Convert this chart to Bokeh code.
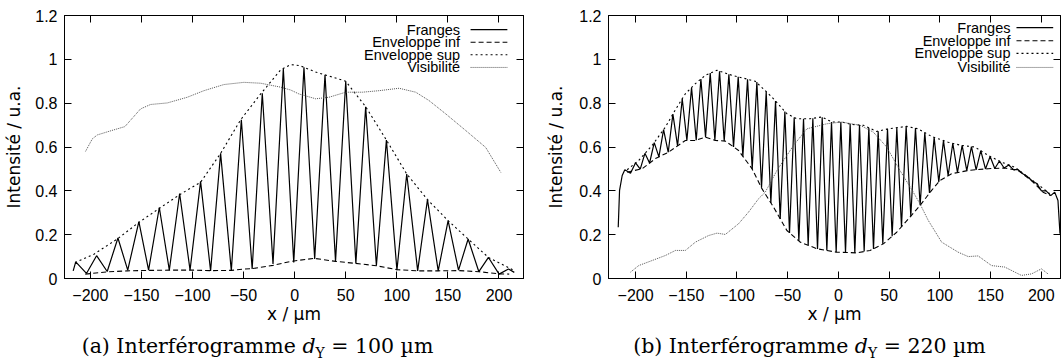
from bokeh.plotting import figure
from bokeh.models import Range1d, FixedTicker, LinearAxis, Label, Div
from bokeh.layouts import row, column
from bokeh.embed import file_html
from bokeh.resources import INLINE

# ---------------- shared axis data ----------------
X_TICKS = [-200, -150, -100, -50, 0, 50, 100, 150, 200]
Y_TICKS = [0, 0.2, 0.4, 0.6, 0.8, 1.0, 1.2]
Y_TICK_LABELS = ["0", "0.2", "0.4", "0.6", "0.8", "1", "1.2"]
X_LABEL = "x / µm"
Y_LABEL = "Intensité / u.a."
LEGEND_LABELS = ["Franges", "Enveloppe inf", "Enveloppe sup", "Visibilité"]

# ---------------- panel (a) : d_Y = 100 um ----------------
A_EDGE_X = [-216.8, 215.0]
A_EDGE_Y = [0.035, 0.028]
A_PEAK_X = [-214.3, -193.9, -173.0, -152.5, -132.5, -112.6, -92.1, -72.5, -52.2, -31.7, -11.1,
            9.1, 29.7, 50.0, 69.5, 89.8, 109.7, 130.0, 150.2, 169.8, 189.7, 209.3]
A_PEAK_Y = [0.076, 0.104, 0.185, 0.260, 0.324, 0.388, 0.443, 0.571, 0.724, 0.845, 0.957,
            0.964, 0.929, 0.900, 0.784, 0.632, 0.477, 0.360, 0.264, 0.180, 0.096, 0.043]
A_TROUGH_X = [-203.8, -183.5, -163.4, -143.0, -122.7, -102.4, -82.3, -62.0, -41.6, -21.2, -0.9,
              19.6, 40.0, 59.9, 80.0, 100.1, 120.4, 140.5, 160.4, 180.3, 200.1]
A_TROUGH_Y = [0.023, 0.032, 0.038, 0.038, 0.038, 0.038, 0.035, 0.035, 0.043, 0.066, 0.073,
              0.089, 0.078, 0.069, 0.058, 0.038, 0.035, 0.035, 0.038, 0.031, 0.020]
A_SUP_X = [-215.0, -196.5, -173.7, -152.5, -131.2, -111.7, -92.1, -72.5, -52.9, -33.3, -13.7,
           -3.9, 4.2, 9.1, 20.5, 29.7, 40.0, 50.0, 59.7, 69.5, 89.8, 109.7, 130.0, 150.2,
           169.8, 189.7, 209.3, 215.0]
A_SUP_Y = [0.073, 0.111, 0.180, 0.256, 0.324, 0.385, 0.439, 0.571, 0.724, 0.842, 0.952,
           0.976, 0.972, 0.964, 0.942, 0.929, 0.915, 0.900, 0.842, 0.784, 0.632, 0.477, 0.360,
           0.264, 0.180, 0.096, 0.050, 0.035]
A_INF_X = [-205.0, -183.5, -163.9, -143.0, -122.7, -98.6, -82.3, -62.0, -49.7, -41.4, -21.2,
           -3.9, 19.0, 40.2, 59.7, 80.0, 100.6, 121.2, 140.7, 161.0, 180.5, 200.1, 210.0]
A_INF_Y = [0.020, 0.030, 0.035, 0.037, 0.038, 0.038, 0.036, 0.037, 0.043, 0.045, 0.060,
           0.078, 0.092, 0.078, 0.069, 0.058, 0.040, 0.035, 0.035, 0.036, 0.031, 0.021, 0.020]
A_VIS_X = [-204.7, -198.1, -193.2, -179.3, -166.2, -150.8, -141.0, -124.7, -105.1, -88.8,
           -69.2, -49.7, -33.3, -13.7, -3.9, 4.2, 20.6, 33.6, 50.0, 66.3, 82.6, 102.2, 118.5,
           131.5, 147.9, 167.5, 187.0, 201.8]
A_VIS_Y = [0.580, 0.637, 0.655, 0.675, 0.693, 0.774, 0.794, 0.801, 0.827, 0.857, 0.885,
           0.895, 0.891, 0.873, 0.860, 0.842, 0.820, 0.827, 0.850, 0.850, 0.857, 0.868, 0.850,
           0.812, 0.751, 0.675, 0.598, 0.484]

# ---------------- panel (b) : d_Y = 220 um ----------------
B_EDGE_X = [-217.1, -215.8, -213.2, 216.5, 218.5]
B_EDGE_Y = [0.234, 0.402, 0.470, 0.356, 0.204]
B_PEAK_X = [-210.6, -200.0, -190.8, -181.6, -172.4, -163.2, -154.0, -144.8, -135.6, -126.4,
            -117.2, -108.0, -98.8, -89.6, -80.4, -71.2, -62.0, -52.8, -43.6, -34.4, -25.2,
            -16.0, -6.8, 2.4, 11.6, 20.8, 30.0, 39.2, 48.4, 57.6, 66.8, 76.0, 85.2, 94.4,
            103.6, 112.8, 122.0, 131.2, 140.4, 149.6, 158.8, 168.0, 177.2, 186.4, 195.6,
            204.8, 213.3]
B_PEAK_Y = [0.496, 0.528, 0.571, 0.620, 0.679, 0.750, 0.820, 0.871, 0.910, 0.937, 0.946,
            0.932, 0.920, 0.909, 0.896, 0.852, 0.810, 0.762, 0.735, 0.729, 0.731, 0.736,
            0.714, 0.714, 0.705, 0.700, 0.688, 0.672, 0.682, 0.688, 0.694, 0.686, 0.666,
            0.644, 0.629, 0.617, 0.607, 0.602, 0.583, 0.557, 0.536, 0.518, 0.497, 0.465,
            0.433, 0.400, 0.394]
B_TROUGH_X = [-205.0, -195.4, -186.2, -177.0, -167.8, -158.6, -149.4, -140.2, -131.0, -121.8,
              -112.6, -103.4, -94.2, -85.0, -75.8, -66.6, -57.4, -48.2, -39.0, -29.8, -20.6,
              -11.4, -2.2, 7.0, 16.2, 25.4, 34.6, 43.8, 53.0, 62.2, 71.4, 80.6, 89.8, 99.0,
              108.2, 117.4, 126.6, 135.8, 145.0, 154.2, 163.4, 172.6, 181.8, 191.0, 200.2,
              209.4]
B_TROUGH_Y = [0.480, 0.499, 0.527, 0.555, 0.576, 0.605, 0.630, 0.631, 0.645, 0.631, 0.627,
              0.600, 0.558, 0.500, 0.414, 0.345, 0.272, 0.208, 0.171, 0.152, 0.135, 0.128,
              0.120, 0.119, 0.117, 0.123, 0.135, 0.157, 0.193, 0.236, 0.284, 0.334, 0.390,
              0.441, 0.469, 0.484, 0.492, 0.496, 0.500, 0.502, 0.504, 0.497, 0.478, 0.445,
              0.400, 0.378]
B_SUP_X = [-208.3, -196.9, -183.7, -170.6, -160.7, -150.9, -141.0, -131.2, -119.7, -104.9,
           -91.8, -82.0, -71.0, -64.0, -50.8, -41.0, -27.9, -16.3, -6.5, 3.3, 13.2, 24.6,
           37.8, 49.2, 67.3, 78.7, 91.9, 108.3, 121.5, 134.5, 147.6, 160.8, 173.9, 187.0,
           200.2, 208.4]
B_SUP_Y = [0.496, 0.539, 0.607, 0.691, 0.770, 0.843, 0.889, 0.927, 0.950, 0.927, 0.912,
           0.900, 0.852, 0.820, 0.752, 0.729, 0.729, 0.737, 0.714, 0.714, 0.703, 0.699,
           0.671, 0.683, 0.694, 0.683, 0.648, 0.622, 0.607, 0.600, 0.562, 0.531, 0.508,
           0.463, 0.417, 0.387]
B_INF_X = [-208.3, -193.5, -180.4, -167.3, -150.9, -141.0, -131.2, -121.4, -111.5, -98.4,
           -85.2, -75.4, -64.0, -50.8, -37.7, -21.3, -1.6, 18.1, 31.2, 44.3, 57.5, 70.6, 80.4,
           91.9, 100.1, 111.6, 128.0, 147.6, 164.1, 177.2, 190.4, 201.8, 208.4]
B_INF_Y = [0.485, 0.501, 0.547, 0.577, 0.630, 0.630, 0.645, 0.630, 0.627, 0.584, 0.501,
           0.410, 0.326, 0.219, 0.166, 0.136, 0.120, 0.117, 0.128, 0.158, 0.211, 0.280,
           0.333, 0.402, 0.447, 0.478, 0.493, 0.501, 0.504, 0.493, 0.447, 0.394, 0.379]
B_VIS_X = [-205.0, -196.9, -183.7, -170.6, -160.7, -150.9, -141.0, -128.0, -119.7, -111.5,
           -98.4, -88.6, -78.7, -72.1, -60.6, -44.3, -31.1, -11.4, 3.3, 21.4, 34.4, 47.6,
           60.7, 73.8, 80.4, 88.6, 101.8, 118.1, 128.0, 137.8, 151.0, 164.1, 180.5, 190.4,
           200.2, 206.7]
B_VIS_Y = [0.029, 0.059, 0.082, 0.105, 0.128, 0.128, 0.166, 0.196, 0.207, 0.201, 0.250,
           0.303, 0.364, 0.394, 0.493, 0.607, 0.683, 0.706, 0.714, 0.699, 0.668, 0.600,
           0.493, 0.394, 0.341, 0.265, 0.166, 0.120, 0.100, 0.103, 0.059, 0.052, 0.014,
           0.021, 0.044, 0.021]

CAPTION_A = '(a) Interférogramme <i>d</i><sub style="font-size:68%">Y</sub> = 100 µm'
CAPTION_B = '(b) Interférogramme <i>d</i><sub style="font-size:68%">Y</sub> = 220 µm'

SANS = "Liberation Sans"
LABEL_FONT = "DejaVu Sans"
SERIF = "DejaVu Serif"

STYLES = [
    dict(line_color="black", line_width=1.2, line_dash="solid"),
    dict(line_color="black", line_width=1.1, line_dash="5 3"),
    dict(line_color="black", line_width=1.1, line_dash="2 3"),
    dict(line_color="#555555", line_width=1.0, line_dash="1 1"),
]


def fringe_curve(edge_x, edge_y, peak_x, peak_y, trough_x, trough_y):
    pts = sorted(list(zip(edge_x, edge_y)) + list(zip(peak_x, peak_y)) + list(zip(trough_x, trough_y)))
    return [p[0] for p in pts], [p[1] for p in pts]


def make_panel(x_range, width, left, right, ylab_standoff, series, legend_pos):
    p = figure(width=width, height=328,
               x_range=Range1d(*x_range), y_range=Range1d(0, 1.2),
               output_backend="svg", toolbar_location=None,
               min_border_left=left, min_border_right=right,
               min_border_top=15, min_border_bottom=50)
    p.background_fill_color = "white"
    p.border_fill_color = "white"
    p.outline_line_color = "black"
    p.outline_line_width = 1
    p.grid.visible = False

    for (xs, ys), st in zip(series, STYLES):
        p.line(xs, ys, **st)

    xa = p.xaxis[0]
    xa.ticker = FixedTicker(ticks=X_TICKS)
    ya = p.yaxis[0]
    ya.ticker = FixedTicker(ticks=Y_TICKS)
    ya.major_label_overrides = {t: s for t, s in zip(Y_TICKS, Y_TICK_LABELS)}
    xa.axis_label = X_LABEL
    ya.axis_label = Y_LABEL
    for ax in (xa, ya):
        ax.major_tick_in = 7
        ax.major_tick_out = 0
        ax.minor_tick_line_color = None
        ax.axis_line_color = "black"
        ax.major_tick_line_color = "black"
        ax.major_label_text_font = SANS
        ax.major_label_text_font_size = "16px"
        ax.major_label_text_color = "black"
        ax.axis_label_text_font = LABEL_FONT
        ax.axis_label_text_font_size = "17px"
        ax.axis_label_text_font_style = "normal"
        ax.axis_label_text_color = "black"
    xa.major_label_standoff = 10
    xa.axis_label_standoff = 0
    ya.major_label_standoff = 7
    ya.axis_label_standoff = ylab_standoff

    ra = LinearAxis(ticker=FixedTicker(ticks=Y_TICKS),
                    major_label_overrides={t: "" for t in Y_TICKS})
    ta = LinearAxis(ticker=FixedTicker(ticks=X_TICKS),
                    major_label_overrides={t: "" for t in X_TICKS})
    for ax in (ra, ta):
        ax.major_tick_in = 7
        ax.major_tick_out = 0
        ax.major_label_standoff = 0
        ax.minor_tick_line_color = None
        ax.axis_line_color = "black"
    p.add_layout(ra, "right")
    p.add_layout(ta, "above")

    # legend (gnuplot style: label right-aligned, sample on the right)
    tx, lx0, lx1, rows = legend_pos
    for lab, yy, st in zip(LEGEND_LABELS, rows, STYLES):
        p.add_layout(Label(x=tx, y=yy, text=lab, text_align="right", text_baseline="middle",
                           text_font=SANS, text_font_size="14.5px", text_color="black"))
        p.line([lx0, lx1], [yy, yy], **st)
    return p


fa = fringe_curve(A_EDGE_X, A_EDGE_Y, A_PEAK_X, A_PEAK_Y, A_TROUGH_X, A_TROUGH_Y)
pa = make_panel((-225.3, 224.0), 540, 64, 17, 8,
                [fa, (A_INF_X, A_INF_Y), (A_SUP_X, A_SUP_Y), (A_VIS_X, A_VIS_Y)],
                (161.9, 172.2, 208.2, [1.136, 1.078, 1.021, 0.963]))

fb = fringe_curve(B_EDGE_X, B_EDGE_Y, B_PEAK_X, B_PEAK_Y, B_TROUGH_X, B_TROUGH_Y)
pb = make_panel((-226.7, 219.0), 522, 68, 2, 10,
                [fb, (B_INF_X, B_INF_Y), (B_SUP_X, B_SUP_Y), (B_VIS_X, B_VIS_Y)],
                (169.7, 175.6, 211.8, [1.145, 1.085, 1.027, 0.963]))

cap_style = {"font-family": SERIF, "font-size": "20.5px", "line-height": "19px",
             "text-align": "center", "color": "black", "padding-top": "9px",
             "white-space": "nowrap"}
da = Div(text=CAPTION_A, width=515, height=35, margin=(0, 25, 0, 0), styles=cap_style)
db = Div(text=CAPTION_B, width=439, height=35, margin=(0, 0, 0, 50), styles=cap_style)

layout = column(row(pa, pb), row(da, db))

open("out.html", "w").write(file_html(layout, INLINE))
